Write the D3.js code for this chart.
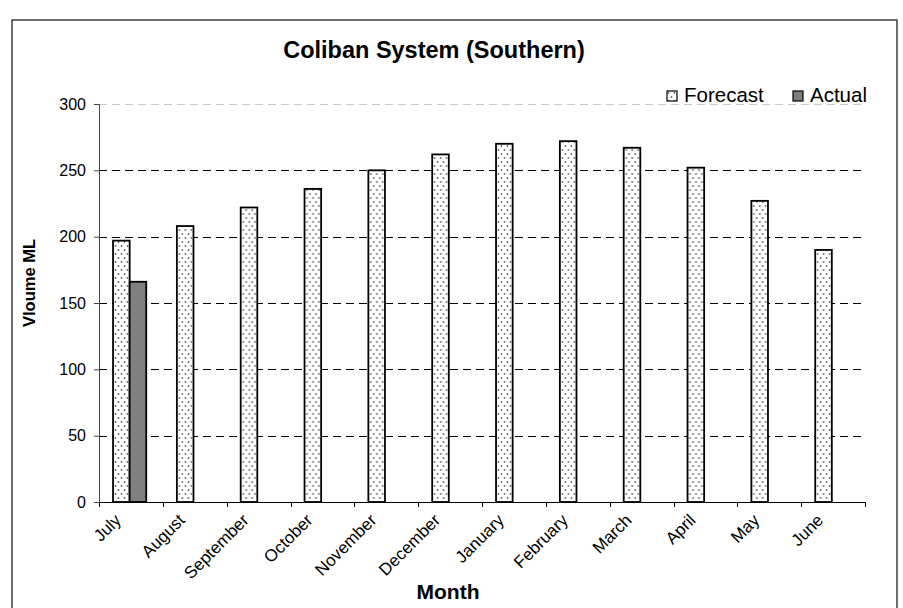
<!DOCTYPE html>
<html>
<head>
<meta charset="utf-8">
<script src="https://cdn.jsdelivr.net/npm/d3@7"></script>
<style>
  body { margin: 0; background: #fff; }
  svg { display: block; font-family: "Liberation Sans", Arial, sans-serif; }
</style>
</head>
<body>
<div id="chart"></div>
<script>
const months = ["July", "August", "September", "October", "November", "December",
    "January", "February", "March", "April", "May", "June"];
const seriesNames = ["Forecast", "Actual"];
const forecast = [197, 208, 222, 236, 250, 262, 270, 272, 267, 252, 227, 190];
const actual = [166, null, null, null, null, null, null, null, null, null, null, null];
const yTicks = [0, 50, 100, 150, 200, 250, 300];

const w = 903;
const h = 608;
const plot = { left: 99, right: 865, top: 104, bottom: 502 };

const svg = d3.select("#chart")
    .append("svg")
    .attr("width", w)
    .attr("height", h);

// dotted fill used by the forecast bars
const defs = svg.append("defs");
const pat = defs.append("pattern")
    .attr("id", "dots")
    .attr("patternUnits", "userSpaceOnUse")
    .attr("width", 6)
    .attr("height", 8);
pat.append("rect").attr("width", 6).attr("height", 8).attr("fill", "#fff");
pat.append("circle").attr("cx", 1.5).attr("cy", 2).attr("r", 0.9).attr("fill", "#666");
pat.append("circle").attr("cx", 4.5).attr("cy", 6).attr("r", 0.9).attr("fill", "#666");

const fills = { Forecast: "url(#dots)", Actual: "#808080" };

// outer frame
svg.append("rect")
    .attr("x", 12)
    .attr("y", 20)
    .attr("width", 885)
    .attr("height", 620)
    .attr("fill", "none")
    .attr("stroke", "#222")
    .attr("stroke-width", 1.3);

const x0 = d3.scaleBand()
    .domain(months)
    .range([plot.left, plot.right]);

const x1 = d3.scaleBand()
    .domain(seriesNames)
    .range([x0.bandwidth() * 0.22, x0.bandwidth() * 0.74]);

const y = d3.scaleLinear()
    .domain([0, 300])
    .range([plot.bottom, plot.top]);

// gridlines
svg.append("g")
    .selectAll("line")
    .data(yTicks.filter(d => d > 0))
    .enter()
    .append("line")
    .attr("x1", plot.left)
    .attr("x2", plot.right)
    .attr("y1", d => Math.round(y(d)) + 0.5)
    .attr("y2", d => Math.round(y(d)) + 0.5)
    .attr("stroke", d => d === 300 ? "#c8c8c8" : "#000")
    .attr("stroke-width", 1)
    .attr("stroke-dasharray", "8,5");

// bars
const rows = months.map((m, i) => ({ month: m, Forecast: forecast[i], Actual: actual[i] }));

svg.append("g")
    .selectAll("g")
    .data(rows)
    .enter()
    .append("g")
    .attr("transform", d => `translate(${x0(d.month)},0)`)
    .selectAll("rect")
    .data(d => seriesNames.filter(s => d[s] != null).map(s => ({ key: s, value: d[s] })))
    .enter()
    .append("rect")
    .attr("x", d => x1(d.key))
    .attr("y", d => y(d.value))
    .attr("width", x1.bandwidth())
    .attr("height", d => y(0) - y(d.value))
    .attr("fill", d => fills[d.key])
    .attr("stroke", "#000")
    .attr("stroke-width", 1.8);

// y axis
const yAxis = d3.axisLeft(y)
    .tickValues(yTicks)
    .tickSize(5)
    .tickPadding(8);

const gy = svg.append("g")
    .attr("transform", `translate(${plot.left},0)`)
    .call(yAxis);
gy.select(".domain").attr("stroke", "#444");
gy.selectAll(".tick line").attr("stroke", "#444");
gy.selectAll("text")
    .attr("font-size", "16px")
    .attr("font-family", "Liberation Sans, Arial, sans-serif")
    .attr("fill", "#000");

// x axis, ticks sit on the category boundaries
const boundaries = months.map(m => x0(m)).concat([plot.right]);
const gx = svg.append("g");
gx.append("line")
    .attr("x1", plot.left)
    .attr("x2", plot.right)
    .attr("y1", plot.bottom + 0.5)
    .attr("y2", plot.bottom + 0.5)
    .attr("stroke", "#000");
gx.selectAll(".xt")
    .data(boundaries)
    .enter()
    .append("line")
    .attr("class", "xt")
    .attr("x1", d => Math.round(d) + 0.5)
    .attr("x2", d => Math.round(d) + 0.5)
    .attr("y1", plot.bottom)
    .attr("y2", plot.bottom + 5)
    .attr("stroke", "#000");
gx.selectAll("text")
    .data(months)
    .enter()
    .append("text")
    .attr("transform", d => `translate(${x0(d) + x0.bandwidth() / 2 - 13},${plot.bottom + 15}) rotate(-45)`)
    .attr("text-anchor", "end")
    .attr("dy", "0.35em")
    .attr("font-size", "17px")
    .text(d => d);

// titles
svg.append("text")
    .attr("x", 434)
    .attr("y", 58)
    .attr("text-anchor", "middle")
    .attr("font-size", "23.5px")
    .attr("font-weight", "bold")
    .text("Coliban System (Southern)");

svg.append("text")
    .attr("transform", "translate(35,283) rotate(-90)")
    .attr("text-anchor", "middle")
    .attr("font-size", "16.5px")
    .attr("font-weight", "bold")
    .text("Vloume ML");

svg.append("text")
    .attr("x", 448)
    .attr("y", 599)
    .attr("text-anchor", "middle")
    .attr("font-size", "21px")
    .attr("font-weight", "bold")
    .text("Month");

// legend
const legendX = [667, 793];
const legend = svg.append("g")
    .selectAll("g")
    .data(seriesNames)
    .enter()
    .append("g")
    .attr("transform", (d, i) => `translate(${legendX[i]},91)`);
legend.append("rect")
    .attr("width", 10)
    .attr("height", 10)
    .attr("fill", d => fills[d])
    .attr("stroke", "#000")
    .attr("stroke-width", 1.2);
legend.append("text")
    .attr("x", 17)
    .attr("y", 11)
    .attr("font-size", "20.5px")
    .text(d => d);
</script>
</body>
</html>
